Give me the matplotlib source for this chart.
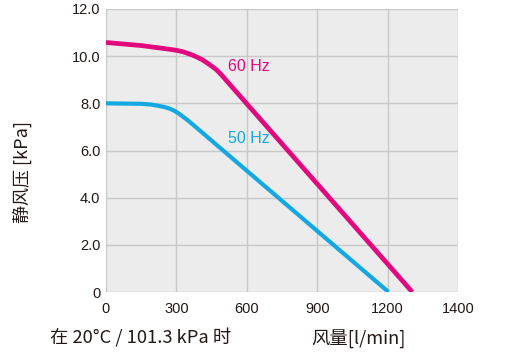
import matplotlib

matplotlib.use("Agg")
import matplotlib.pyplot as plt

# values (x in l/min on the chart's grid, y in kPa)
flow_60 = [0, 150, 250, 300, 330, 350, 370, 390, 410, 430, 450, 470, 490, 510, 1305]
pres_60 = [10.58, 10.45, 10.32, 10.25, 10.18, 10.11, 10.04, 9.95, 9.85,
           9.72, 9.58, 9.43, 9.23, 9.0, 0]
flow_50 = [0, 150, 190, 220, 250, 270, 290, 310, 330, 350, 370, 1204]
pres_50 = [8.0, 7.98, 7.95, 7.9, 7.84, 7.78, 7.69, 7.57, 7.42, 7.27, 7.1, 0]

x_ticks = [0, 300, 600, 900, 1200, 1500]
x_labels = ["0", "300", "600", "900", "1200", "1400"]
y_ticks = [0, 2, 4, 6, 8, 10, 12]
y_labels = ["0", "2.0", "4.0", "6.0", "8.0", "10.0", "12.0"]

MAGENTA = "#e2097e"
CYAN = "#14a8e2"
CJK = ["Noto Sans CJK SC", "DejaVu Sans"]

fig = plt.figure(figsize=(5.2, 3.56), dpi=100)
ax = fig.add_axes([106 / 520, 64 / 356, 352 / 520, 283 / 356])
ax.set_facecolor("#ececec")

ax.plot(flow_50, pres_50, color=CYAN, lw=3.0, solid_capstyle="butt",
        solid_joinstyle="round", zorder=3)
ax.plot(flow_60, pres_60, color=MAGENTA, lw=3.4, solid_capstyle="butt",
        solid_joinstyle="round", zorder=3)

ax.text(521, 9.56, "60 Hz", color=MAGENTA, fontsize=11.5, family="Liberation Sans",
        va="center", ha="left")
ax.text(521, 6.52, "50 Hz", color=CYAN, fontsize=11.5, family="Liberation Sans",
        va="center", ha="left")

ax.set_xlim(0, 1500)
ax.set_ylim(0, 12)
ax.set_xticks(x_ticks)
ax.set_xticklabels(x_labels, family="Liberation Sans", fontsize=10.5)
ax.set_yticks(y_ticks)
ax.set_yticklabels(y_labels, family="Liberation Sans", fontsize=10.5)
ax.tick_params(axis="both", length=0, colors="#231815")
ax.tick_params(axis="x", pad=7)
ax.tick_params(axis="y", pad=4)
ax.grid(True, color="#c8c8c8", lw=1.0, zorder=0)
ax.set_axisbelow(True)
for s in ax.spines.values():
    s.set_visible(False)

fig.text(22 / 520, 1 - 172 / 356, "静风压 [kPa]", rotation=90, family=CJK,
         fontsize=13, ha="center", va="center", color="#231815")
fig.text(50 / 520, 1 - 338 / 356, "在 20°C / 101.3 kPa 时", family=CJK,
         fontsize=13.2, ha="left", va="center", color="#231815")
fig.text(358 / 520, 1 - 339 / 356, "风量[l/min]", family=CJK,
         fontsize=13.2, ha="center", va="center", color="#231815")

fig.savefig("out.png", dpi=100)
